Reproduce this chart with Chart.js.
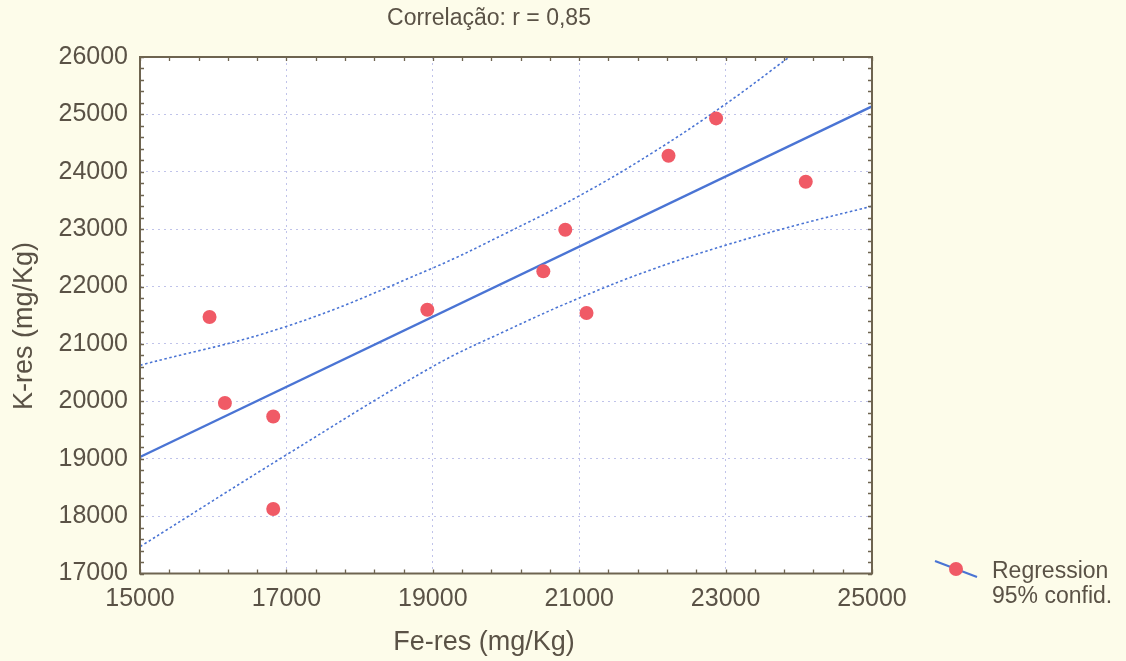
<!DOCTYPE html>
<html>
<head>
<meta charset="utf-8">
<script src="https://cdn.jsdelivr.net/npm/chart.js@4.4.1/dist/chart.umd.min.js"></script>
<style>
  html, body { margin: 0; padding: 0; background: #fdfcea; }
  #wrap { width: 1126px; height: 661px; position: relative; }
</style>
</head>
<body>
<div id="wrap"><canvas id="c" width="1126" height="661"></canvas></div>
<script>
// ---- data ----
const feValues = [15950, 16160, 16820, 16820, 18925, 20510, 20810, 21100, 22220, 22870, 24095];
const kValues  = [21470, 19970, 19735, 18125, 21595, 22265, 22990, 21540, 24280, 24930, 23825];

const regressionX = [15000, 25000];
const regressionY = [19030, 25140];

const upperX = [15000, 17000, 19000, 20000, 21000, 22000, 23000, 23870];
const upperY = [20628, 21305, 22324, 22930, 23580, 24330, 25180, 26000];

const lowerX = [15000, 17000, 19000, 20000, 21000, 22000, 23000, 24000, 25000];
const lowerY = [17467, 19067, 20607, 21230, 21800, 22300, 22720, 23080, 23400];

const titleText = 'Correlação: r = 0,85';
const xTitle = 'Fe-res (mg/Kg)';
const yTitle = 'K-res (mg/Kg)';
const legendLines = ['Regression', '95% confid.'];

const xMin = 15000, xMax = 25000, xStep = 2000, xMinor = 400;
const yMin = 17000, yMax = 26000, yStep = 1000, yMinor = 200;

// ---- styles ----
const FONT = "'Liberation Sans', Arial, sans-serif";
const TEXT = '#5a5246';
const BLUE = '#4a74d4';
const RED = '#f05a66';
const FRAME = '#6e6450';
const GRID = 'rgba(165,170,225,0.7)';
const BG = '#fdfcea';

const zip = (xs, ys) => xs.map((x, i) => ({ x: x, y: ys[i] }));

const decorPlugin = {
  id: 'decor',
  beforeDraw(chart) {
    const { ctx, chartArea: a } = chart;
    ctx.save();
    ctx.fillStyle = BG;
    ctx.fillRect(0, 0, chart.width, chart.height);
    ctx.fillStyle = '#ffffff';
    ctx.fillRect(a.left, a.top, a.right - a.left, a.bottom - a.top);
    ctx.restore();
  },
  afterDatasetsDraw(chart) {
    const { ctx, chartArea: a, scales: { x, y } } = chart;
    ctx.save();
    ctx.strokeStyle = FRAME;
    ctx.lineWidth = 1.3;
    const tl = 4;
    ctx.beginPath();
    for (let v = xMin; v <= xMax + 0.1; v += xMinor) {
      const px = Math.round(x.getPixelForValue(v)) + 0.5;
      ctx.moveTo(px, a.top); ctx.lineTo(px, a.top + tl);
      ctx.moveTo(px, a.bottom); ctx.lineTo(px, a.bottom - tl);
    }
    for (let v = yMin; v <= yMax + 0.1; v += yMinor) {
      const py = Math.round(y.getPixelForValue(v)) + 0.5;
      ctx.moveTo(a.left, py); ctx.lineTo(a.left + tl, py);
      ctx.moveTo(a.right, py); ctx.lineTo(a.right - tl, py);
    }
    ctx.stroke();
    ctx.lineWidth = 2;
    ctx.strokeRect(a.left, a.top, a.right - a.left, a.bottom - a.top);
    ctx.restore();
  },
  afterDraw(chart) {
    const { ctx } = chart;
    ctx.save();
    ctx.fillStyle = TEXT;
    ctx.textAlign = 'center';
    ctx.textBaseline = 'middle';

    ctx.font = "23px " + FONT;
    ctx.fillText(titleText, 489, 19);

    // axis titles
    ctx.font = "27px " + FONT;
    ctx.fillText(xTitle, 484, 643);
    ctx.save();
    ctx.translate(25, 326);
    ctx.rotate(-Math.PI / 2);
    ctx.fillText(yTitle, 0, 0);
    ctx.restore();

    // legend
    ctx.strokeStyle = BLUE;
    ctx.lineWidth = 2;
    ctx.beginPath();
    ctx.moveTo(935, 561);
    ctx.lineTo(977, 577);
    ctx.stroke();
    ctx.fillStyle = RED;
    ctx.beginPath();
    ctx.arc(956, 569, 7, 0, Math.PI * 2);
    ctx.fill();
    ctx.fillStyle = TEXT;
    ctx.font = "23px " + FONT;
    ctx.textAlign = 'left';
    ctx.fillText(legendLines[0], 992, 572);
    ctx.fillText(legendLines[1], 992, 597);
    ctx.restore();
  }
};

const gridColor = (ctx) => {
  const v = ctx.tick ? ctx.tick.value : null;
  const s = ctx.scale;
  if (v === s.min || v === s.max) return 'rgba(0,0,0,0)';
  return GRID;
};

new Chart(document.getElementById('c'), {
  type: 'scatter',
  data: {
    datasets: [
      {
        label: 'points',
        data: zip(feValues, kValues),
        pointRadius: 7,
        pointHoverRadius: 7,
        backgroundColor: RED,
        borderWidth: 0,
        order: 0
      },
      {
        label: 'regression',
        data: zip(regressionX, regressionY),
        showLine: true,
        pointRadius: 0,
        borderColor: BLUE,
        borderWidth: 2.4,
        order: 1
      },
      {
        label: 'upper',
        data: zip(upperX, upperY),
        showLine: true,
        pointRadius: 0,
        borderColor: BLUE,
        borderWidth: 1.6,
        borderDash: [2.5, 2.5],
        tension: 0.4,
        order: 2
      },
      {
        label: 'lower',
        data: zip(lowerX, lowerY),
        showLine: true,
        pointRadius: 0,
        borderColor: BLUE,
        borderWidth: 1.6,
        borderDash: [2.5, 2.5],
        tension: 0.4,
        order: 2
      }
    ]
  },
  options: {
    responsive: false,
    animation: false,
    events: [],
    layout: { padding: { top: 57, right: 254, bottom: 0, left: 0 } },
    plugins: {
      legend: { display: false },
      tooltip: { enabled: false },
      title: { display: false }
    },
    scales: {
      x: {
        type: 'linear',
        min: xMin, max: xMax,
        afterFit(scale) { scale.height = 87.5; },
        ticks: {
          stepSize: xStep,
          padding: 11,
          color: TEXT,
          font: { family: FONT, size: 25 },
          maxRotation: 0,
          callback: (v) => String(v)
        },
        grid: { drawTicks: false, color: gridColor, lineWidth: 1 },
        border: { display: false, dash: [2, 4] },
        title: { display: false }
      },
      y: {
        type: 'linear',
        min: yMin, max: yMax,
        afterFit(scale) { scale.width = 140; },
        ticks: {
          stepSize: yStep,
          padding: 12,
          color: TEXT,
          font: { family: FONT, size: 25 },
          callback: (v) => String(v)
        },
        grid: { drawTicks: false, color: gridColor, lineWidth: 1 },
        border: { display: false, dash: [2, 4] },
        title: { display: false }
      }
    }
  },
  plugins: [decorPlugin]
});
</script>
</body>
</html>
